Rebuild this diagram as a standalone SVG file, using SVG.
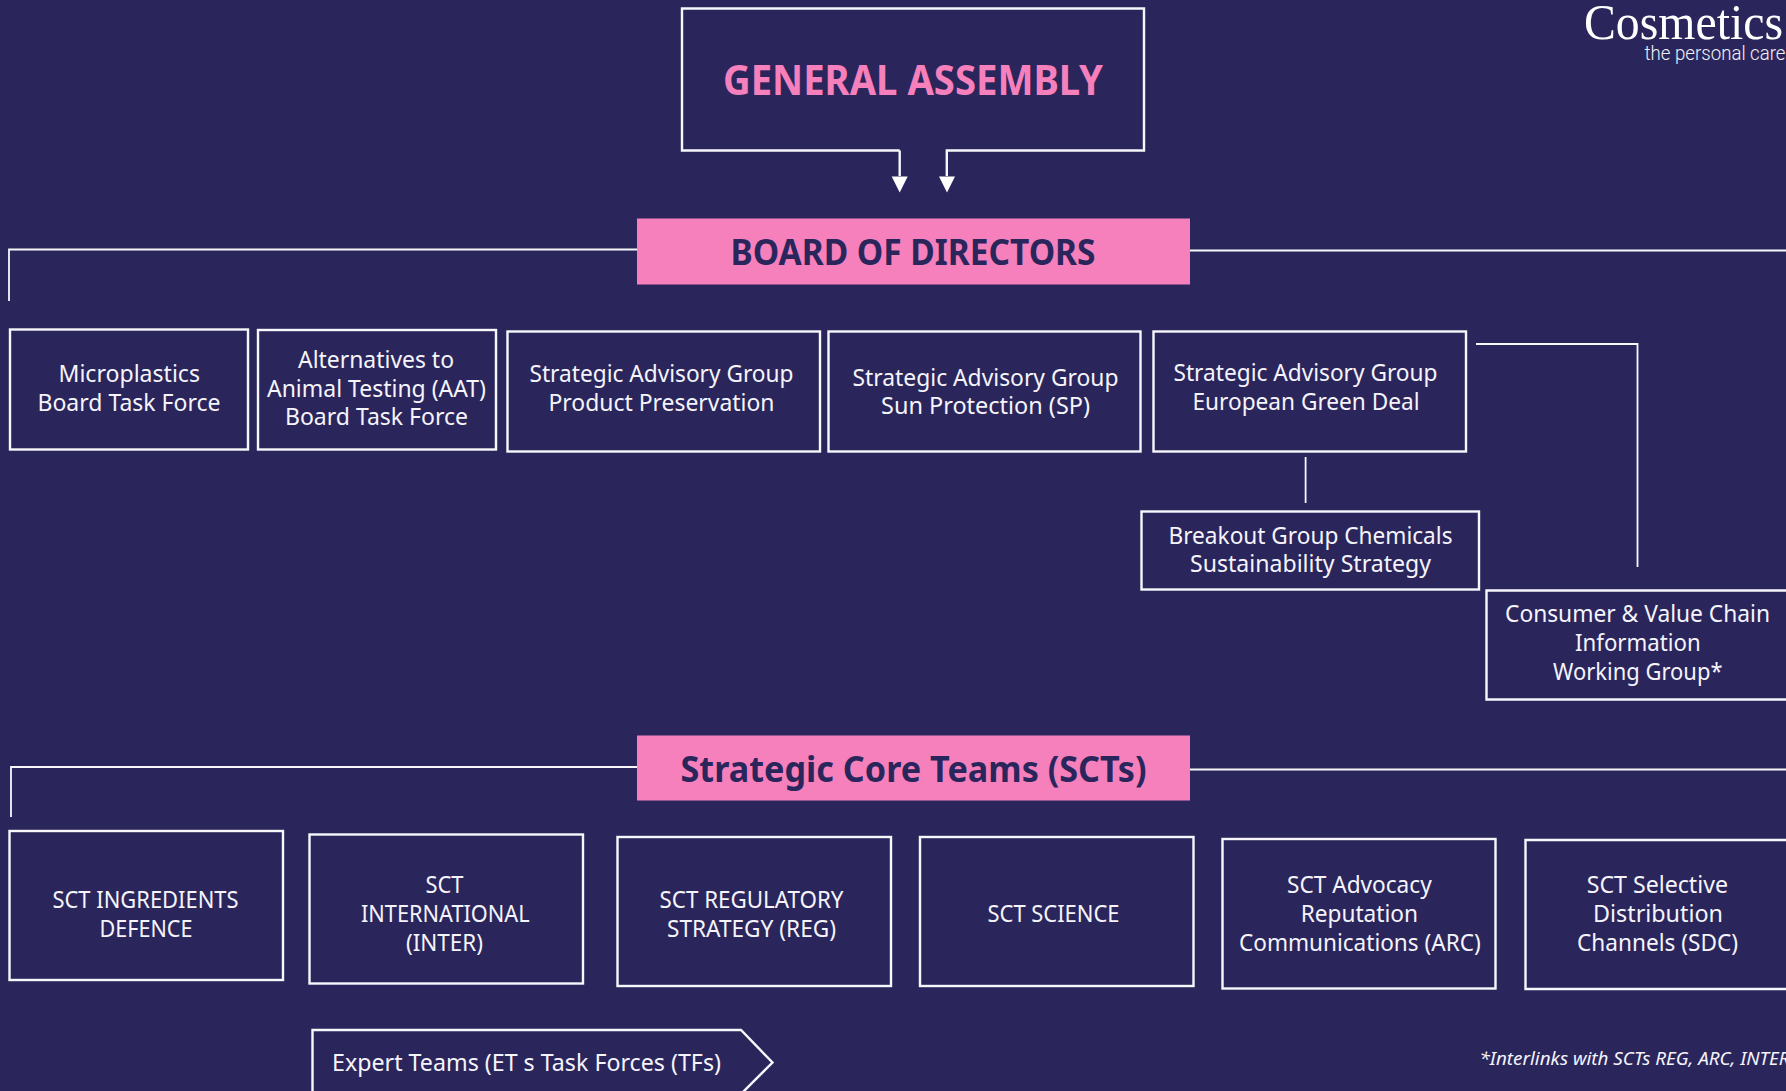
<svg xmlns="http://www.w3.org/2000/svg" width="1786" height="1091" viewBox="0 0 1786 1091">
<style>
text{font-family:"Noto Sans","Open Sans",sans-serif;fill:#f6f4fb}
.b{font-size:23.5px}
.box{fill:none;stroke:#f8f7fc;stroke-width:2.4}
.line{fill:none;stroke:#f8f7fc;stroke-width:1.8}
.pink{fill:#f680bc}
.h{font-size:36px;font-weight:700;fill:#2a265c}
</style>
<rect width="1786" height="1091" fill="#2a265c"/>
<g id="connectors">
<path class="line" d="M637 249.500H9V301"/>
<path class="line" d="M1190 250.500H1786"/>
<path class="line" d="M1305.600 457V503"/>
<path class="line" d="M1476 344H1637.500V567"/>
<path class="line" d="M637 767H11V817"/>
<path class="line" d="M1190 769.500H1786"/>
</g>
<g id="general-assembly">
<path class="box" d="M899.700 150.500H682V8.500H1144V150.500H946.800V176"/>
<path class="box" d="M899.700 150.500V176"/>
<path fill="#fff" d="M891.700 176.500H907.700L899.700 192.500Z"/>
<path fill="#fff" d="M939 176.500H955L947 192.500Z"/>
<text x="723" y="94.500" style="font-size:42px;font-weight:700;fill:#f680bc" textLength="380" lengthAdjust="spacingAndGlyphs">GENERAL ASSEMBLY</text>
</g>
<g id="board-of-directors">
<rect class="pink" x="637" y="218.500" width="553" height="66"/>
<text class="h" x="730.500" y="264.500" textLength="365" lengthAdjust="spacingAndGlyphs">BOARD OF DIRECTORS</text>
</g>
<g id="logo">
<text x="1584" y="38.500" style="font-family:'Liberation Serif',serif;font-size:50px;fill:#fff" textLength="199" lengthAdjust="spacingAndGlyphs">Cosmetics</text>
<text x="1644.500" y="60" style="font-family:Roboto,sans-serif;font-weight:300;font-size:20px;fill:#f2f1f7" textLength="141" lengthAdjust="spacingAndGlyphs">the personal care</text>
</g>
<g id="microplastics">
<rect class="box" x="10" y="329.500" width="238" height="120"/>
<text class="b" x="58.500" y="381.500" textLength="141.500" lengthAdjust="spacingAndGlyphs">Microplastics</text>
<text class="b" x="37.500" y="410.500" textLength="183" lengthAdjust="spacingAndGlyphs">Board Task Force</text>
</g>
<g id="alternatives">
<rect class="box" x="258" y="330" width="238" height="119.500"/>
<text class="b" x="298" y="368" textLength="156" lengthAdjust="spacingAndGlyphs">Alternatives to</text>
<text class="b" x="267" y="397" textLength="219" lengthAdjust="spacingAndGlyphs">Animal Testing (AAT)</text>
<text class="b" x="285" y="425" textLength="183" lengthAdjust="spacingAndGlyphs">Board Task Force</text>
</g>
<g id="product-preservation">
<rect class="box" x="507.500" y="331.500" width="312.500" height="120"/>
<text class="b" x="529.500" y="381.500" textLength="264" lengthAdjust="spacingAndGlyphs">Strategic Advisory Group</text>
<text class="b" x="548.500" y="411" textLength="226" lengthAdjust="spacingAndGlyphs">Product Preservation</text>
</g>
<g id="sun-protection">
<rect class="box" x="828.500" y="331.500" width="312" height="120"/>
<text class="b" x="852.500" y="385.500" textLength="266" lengthAdjust="spacingAndGlyphs">Strategic Advisory Group</text>
<text class="b" x="881" y="413.500" textLength="209" lengthAdjust="spacingAndGlyphs">Sun Protection (SP)</text>
</g>
<g id="green-deal">
<rect class="box" x="1153.500" y="331.500" width="312.500" height="120"/>
<text class="b" x="1173.500" y="381" textLength="264" lengthAdjust="spacingAndGlyphs">Strategic Advisory Group</text>
<text class="b" x="1192.500" y="410" textLength="227" lengthAdjust="spacingAndGlyphs">European Green Deal</text>
</g>
<g id="breakout">
<rect class="box" x="1141.500" y="511.500" width="337.500" height="78"/>
<text class="b" x="1168.500" y="544" textLength="284" lengthAdjust="spacingAndGlyphs">Breakout Group Chemicals</text>
<text class="b" x="1190" y="572" textLength="241" lengthAdjust="spacingAndGlyphs">Sustainability Strategy</text>
</g>
<g id="consumer">
<path class="box" d="M1790 590.500H1486.500V699.500H1790"/>
<text class="b" x="1505" y="622" textLength="265" lengthAdjust="spacingAndGlyphs">Consumer &amp; Value Chain</text>
<text class="b" x="1575" y="651" textLength="125.700" lengthAdjust="spacingAndGlyphs">Information</text>
<text class="b" x="1553" y="680" textLength="169.500" lengthAdjust="spacingAndGlyphs">Working Group*</text>
</g>
<g id="strategic-core-teams">
<rect class="pink" x="637" y="735.500" width="553" height="65"/>
<text class="h" x="680.500" y="781.500" textLength="466" lengthAdjust="spacingAndGlyphs">Strategic Core Teams (SCTs)</text>
</g>
<g id="sct-ingredients">
<rect class="box" x="9.500" y="831" width="273.500" height="149"/>
<text class="b" x="52.500" y="907.500" textLength="186" lengthAdjust="spacingAndGlyphs">SCT INGREDIENTS</text>
<text class="b" x="99.500" y="936.500" textLength="93" lengthAdjust="spacingAndGlyphs">DEFENCE</text>
</g>
<g id="sct-international">
<rect class="box" x="309.500" y="834.500" width="273.500" height="149"/>
<text class="b" x="425.500" y="893" textLength="38" lengthAdjust="spacingAndGlyphs">SCT</text>
<text class="b" x="361" y="922" textLength="168.600" lengthAdjust="spacingAndGlyphs">INTERNATIONAL</text>
<text class="b" x="406" y="950.500" textLength="77" lengthAdjust="spacingAndGlyphs">(INTER)</text>
</g>
<g id="sct-regulatory">
<rect class="box" x="617.500" y="837" width="273.500" height="149"/>
<text class="b" x="659.500" y="907.500" textLength="184" lengthAdjust="spacingAndGlyphs">SCT REGULATORY</text>
<text class="b" x="667" y="936.500" textLength="169" lengthAdjust="spacingAndGlyphs">STRATEGY (REG)</text>
</g>
<g id="sct-science">
<rect class="box" x="920" y="837" width="273.500" height="149"/>
<text class="b" x="987.500" y="922" textLength="132" lengthAdjust="spacingAndGlyphs">SCT SCIENCE</text>
</g>
<g id="sct-arc">
<rect class="box" x="1222.500" y="839" width="273" height="149.500"/>
<text class="b" x="1287" y="893" textLength="144.700" lengthAdjust="spacingAndGlyphs">SCT Advocacy</text>
<text class="b" x="1300.700" y="922" textLength="117.300" lengthAdjust="spacingAndGlyphs">Reputation</text>
<text class="b" x="1239" y="950.500" textLength="241.700" lengthAdjust="spacingAndGlyphs">Communications (ARC)</text>
</g>
<g id="sct-sdc">
<path class="box" d="M1790 840H1525.500V989H1790"/>
<text class="b" x="1586.700" y="893" textLength="141.300" lengthAdjust="spacingAndGlyphs">SCT Selective</text>
<text class="b" x="1593" y="922" textLength="130" lengthAdjust="spacingAndGlyphs">Distribution</text>
<text class="b" x="1577" y="950.500" textLength="161" lengthAdjust="spacingAndGlyphs">Channels (SDC)</text>
</g>
<g id="expert-teams">
<path class="box" d="M312.500 1095V1030H741L772.500 1062.500L740 1095"/>
<text class="b" x="332" y="1071" textLength="389" lengthAdjust="spacingAndGlyphs">Expert Teams (ET s Task Forces (TFs)</text>
</g>
<g id="footnote">
<text x="1479.500" y="1064.500" style="font-size:17.500px;font-style:italic" textLength="310" lengthAdjust="spacingAndGlyphs">*Interlinks with SCTs REG, ARC, INTER</text>
</g>
</svg>
